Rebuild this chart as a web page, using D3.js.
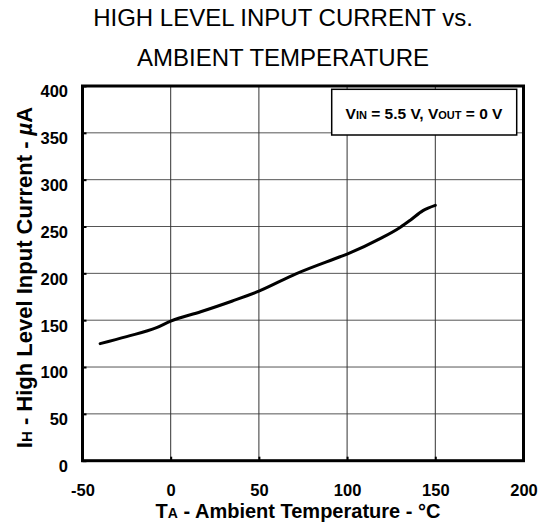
<!DOCTYPE html>
<html>
<head>
<meta charset="utf-8">
<script src="https://cdn.jsdelivr.net/npm/d3@7"></script>
<style>
  html, body { margin: 0; padding: 0; background: #fff; }
  svg { display: block; font-family: Arial, "Liberation Sans", Helvetica, sans-serif; }
</style>
</head>
<body>
<svg id="chart" width="547" height="526"></svg>
<script>
// Ambient temperature (°C) and high level input current (µA)
const temperature = [-40, -25, -8, 0, 17, 35, 50, 71, 96, 100, 119, 130, 136, 143, 150];
const inputCurrent = [125, 132.5, 142, 149, 159, 170.5, 181, 199.5, 217.7, 220.6, 237.3, 249, 257, 267, 272.6];

const xTicks = [-50, 0, 50, 100, 150, 200];
const yTicks = [0, 50, 100, 150, 200, 250, 300, 350, 400];

const titleLines = ["HIGH LEVEL INPUT CURRENT vs.", "AMBIENT TEMPERATURE"];

const svg = d3.select("#chart");

const plot = { left: 82.5, right: 523.5, top: 86, bottom: 460.7 };

const x = d3.scaleLinear().domain([-50, 200]).range([plot.left, plot.right]);
const y = d3.scaleLinear().domain([0, 400]).range([plot.bottom, plot.top]);

// Title
svg.append("g")
  .selectAll("text")
  .data(titleLines)
  .join("text")
  .attr("x", 283)
  .attr("y", (d, i) => 26 + i * 40)
  .attr("text-anchor", "middle")
  .attr("font-size", 24)
  .attr("fill", "#000")
  .text(d => d);

// Grid lines
const grid = svg.append("g");
grid.selectAll("line.h")
  .data(yTicks.slice(1, -1))
  .join("line")
  .attr("class", "h")
  .attr("x1", plot.left).attr("x2", plot.right)
  .attr("y1", d => y(d)).attr("y2", d => y(d))
  .attr("stroke", "#555").attr("stroke-width", 1);
grid.selectAll("line.v")
  .data(xTicks.slice(1, -1))
  .join("line")
  .attr("class", "v")
  .attr("x1", d => x(d)).attr("x2", d => x(d))
  .attr("y1", plot.top).attr("y2", plot.bottom)
  .attr("stroke", "#333").attr("stroke-width", 1);

// Axes: inward tick stubs and bold labels (plain hyphen for negatives)
const plain = d => String(d);
const xAxis = d3.axisBottom(x).tickValues(xTicks).tickFormat(plain)
  .tickSizeInner(-4).tickSizeOuter(0).tickPadding(23.5);
const yAxis = d3.axisLeft(y).tickValues(yTicks).tickFormat(plain)
  .tickSizeInner(-4).tickSizeOuter(0).tickPadding(14.5);

const gx = svg.append("g").attr("transform", `translate(0,${plot.bottom})`).call(xAxis);
const gy = svg.append("g").attr("transform", `translate(${plot.left},0)`).call(yAxis);

[gx, gy].forEach(g => {
  g.select(".domain").remove();
  g.selectAll(".tick line").attr("stroke", "#000").attr("stroke-width", 2);
  g.selectAll(".tick text")
    .attr("font-family", "Arial, 'Liberation Sans', sans-serif")
    .attr("font-size", 16.5)
    .attr("font-weight", "bold")
    .attr("fill", "#000");
});
gy.selectAll(".tick text").attr("dy", "0.66em");

// Curve
const line = d3.line()
  .x((d, i) => x(temperature[i]))
  .y(d => y(d))
  .curve(d3.curveMonotoneX);

svg.append("path")
  .datum(inputCurrent)
  .attr("d", line)
  .attr("fill", "none")
  .attr("stroke", "#000")
  .attr("stroke-width", 3)
  .attr("stroke-linejoin", "round")
  .attr("stroke-linecap", "round");

// Plot frame
svg.append("rect")
  .attr("x", plot.left).attr("y", plot.top)
  .attr("width", plot.right - plot.left)
  .attr("height", plot.bottom - plot.top)
  .attr("fill", "none")
  .attr("stroke", "#000")
  .attr("stroke-width", 3);

// Condition box
const box = svg.append("g");
box.append("rect")
  .attr("x", 331.7).attr("y", 89.3)
  .attr("width", 185).attr("height", 45.7)
  .attr("fill", "#fff")
  .attr("stroke", "#000")
  .attr("stroke-width", 1.5);
const cond = box.append("text")
  .attr("x", 424).attr("y", 119)
  .attr("text-anchor", "middle")
  .attr("font-size", 15.5)
  .attr("font-weight", "bold");
cond.append("tspan").text("V");
cond.append("tspan").attr("font-size", 11).text("IN");
cond.append("tspan").text(" = 5.5 V, V");
cond.append("tspan").attr("font-size", 11).text("OUT");
cond.append("tspan").text(" = 0 V");

// Axis titles
const xt = svg.append("text")
  .attr("x", 298).attr("y", 517.5)
  .attr("text-anchor", "middle")
  .attr("font-size", 20)
  .attr("font-weight", "bold");
xt.append("tspan").text("T");
xt.append("tspan").attr("font-size", 14).text("A");
xt.append("tspan").text(" - Ambient Temperature - °C");

const yt = svg.append("text")
  .attr("transform", "translate(32,277.5) rotate(-90)")
  .attr("text-anchor", "middle")
  .attr("font-size", 22)
  .attr("font-weight", "bold");
yt.append("tspan").text("I");
yt.append("tspan").attr("font-size", 15).text("H");
yt.append("tspan").text(" - High Level Input Current - ");
yt.append("tspan").attr("font-style", "italic").text("µ");
yt.append("tspan").text("A");
</script>
</body>
</html>
